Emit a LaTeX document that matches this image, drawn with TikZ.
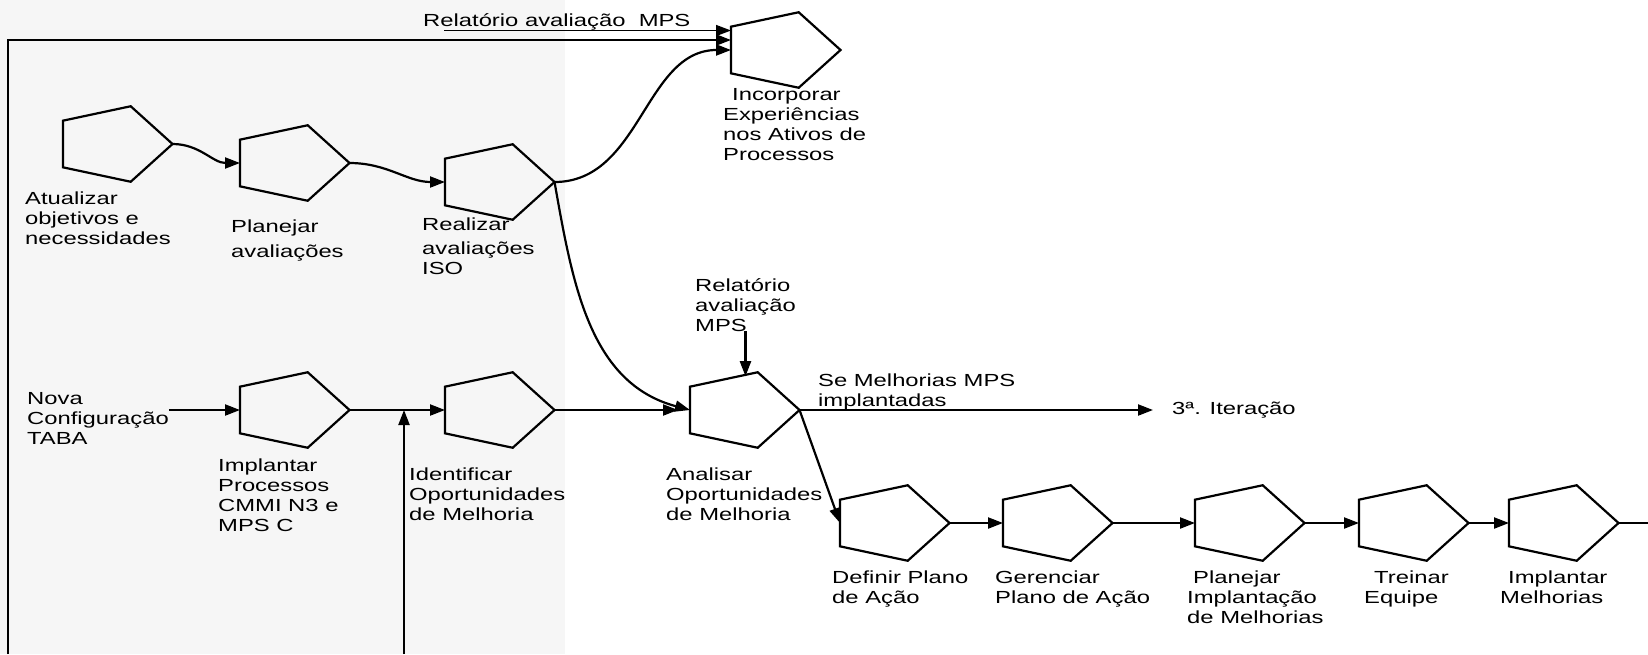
\documentclass[tikz,border=0pt]{standalone}
\usepackage{fontspec}
\setmainfont{Liberation Sans}[FakeStretch=1.36]
\usetikzlibrary{shapes.geometric}
\usetikzlibrary{arrows.meta}
\usetikzlibrary{calc}
\definecolor{bggray}{RGB}{246,246,246}
\tikzset{
    procnode/.style = {regular polygon, regular polygon sides=5, shape border rotate=-90, draw=black, line width=2.2pt, minimum size=79.4pt, inner sep=0pt, outer sep=0pt, xscale=1.525, transform shape, anchor=west},
    lbl/.style = {anchor=north west, align=left, inner sep=0pt, font=\fontsize{17.5}{20}\selectfont},
    edgen/.style = {line width=2.2pt, black},
    edgea/.style = {line width=2.2pt, black, -{Triangle[length=15pt,width=11pt]}},
    edget/.style = {line width=1.4pt, black, -{Triangle[length=15pt,width=11pt]}}
}
\begin{document}
\begin{tikzpicture}[x=1pt, y=1pt]
  \useasboundingbox (0,0) rectangle (1648,-654);
  \fill[bggray] (0,0) rectangle (565,-654);
  % first row
  \node[procnode] (atual) at (63,-144) {};
  \node[procnode] (planav) at (240,-163) {};
  \node[procnode] (realiz) at (445,-182) {};
  \node[procnode] (incorp) at (731,-50) {};
  % second row
  \node[procnode] (implproc) at (240,-410) {};
  \node[procnode] (identif) at (445,-410) {};
  \node[procnode] (analis) at (690,-410) {};
  % third row
  \node[procnode] (defin) at (840,-523) {};
  \node[procnode] (geren) at (1003,-523) {};
  \node[procnode] (planimpl) at (1195,-523) {};
  \node[procnode] (treinar) at (1359,-523) {};
  \node[procnode] (implmel) at (1509,-523) {};

  \node[lbl] (reltop) at (423,-13) {Relatório avaliação~ MPS};
  \node[lbl] (tatual) at (25,-192) {Atualizar\\objetivos e\\necessidades};
  \node[lbl] (tplanav) at (231,-220) {Planejar\\[5pt]avaliações};
  \node[lbl] (trealiz) at (422,-218) {Realizar\\[4pt]avaliações\\ISO};
  \node[lbl] (tincorp) at (723,-88) {\hspace*{9pt}Incorporar\\Experiências\\nos Ativos de\\Processos};
  \node[lbl] (nova) at (27,-392) {Nova\\Configuração\\TABA};
  \node[lbl] (timplproc) at (218,-459) {Implantar\\Processos\\CMMI N3 e\\MPS C};
  \node[lbl] (tidentif) at (409,-468) {Identificar\\Oportunidades\\de Melhoria};
  \node[lbl] (relmid) at (695,-278) {Relatório\\avaliação\\MPS};
  \node[lbl] (semelh) at (818,-374) {Se Melhorias MPS\\implantadas};
  \node[lbl] (tanalis) at (666,-468) {Analisar\\Oportunidades\\de Melhoria};
  \node[lbl, anchor=west] (iter) at (1172,-410) {3ª. Iteração};
  \node[lbl] (tdefin) at (832,-571) {Definir Plano\\de Ação};
  \node[lbl] (tgeren) at (995,-571) {Gerenciar\\Plano de Ação};
  \node[lbl] (tplanimpl) at (1187,-571) {\hspace*{6pt}Planejar\\Implantação\\de Melhorias};
  \node[lbl] (ttreinar) at (1364,-571) {\hspace*{10pt}Treinar\\Equipe};
  \node[lbl] (timplmel) at (1500,-571) {\hspace*{8pt}Implantar\\Melhorias};

  \coordinate (loopend) at (8,-654);
  \coordinate (vend) at (404,-654);
  \coordinate (relstart) at (444,-30.5);
  \coordinate (rowend) at (1648,-523);

  \draw[edgea] (atual.east) to[out=0,in=180] (planav.west);
  \draw[edgea] (planav.east) to[out=0,in=180] (realiz.west);
  \draw[edgea] (realiz.east) to[out=0,in=180] (incorp.west);
  \draw[edgea] (realiz.east) to[out=-80,in=165] (analis.west);
  \draw[edgea] (loopend) |- ($(incorp.west)+(0,10)$);
  \draw[edget] (relstart) -- (relstart -| incorp.west);
  \draw[edgea] (nova.east |- implproc.west) -- (implproc.west);
  \draw[edgea] (implproc.east) -- (identif.west);
  \draw[edgea] (vend) -- (vend |- implproc.east);
  \draw[edgea, shorten >=12pt] (identif.east) -- (analis.west);
  \draw[edgea] (relmid.south) -- (relmid.south |- analis.north);
  \draw[edgea, shorten >=19pt] (analis.east) -- (analis.east -| iter.west);
  \draw[edgea] (analis.east) -- (defin.west);
  \draw[edgea] (defin.east) -- (geren.west);
  \draw[edgea] (geren.east) -- (planimpl.west);
  \draw[edgea] (planimpl.east) -- (treinar.west);
  \draw[edgea] (treinar.east) -- (implmel.west);
  \draw[edgen] (implmel.east) -- (rowend);
\end{tikzpicture}
\end{document}
